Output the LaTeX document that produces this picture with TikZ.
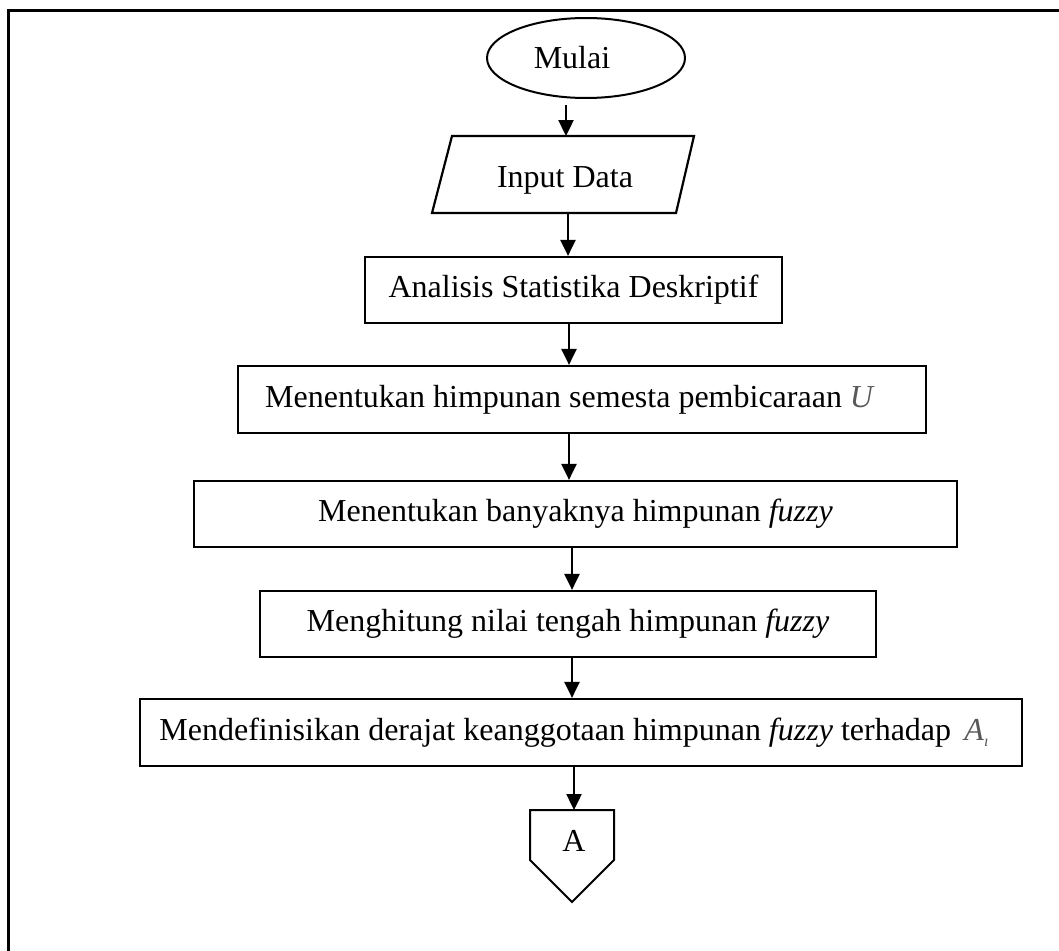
\documentclass[tikz,border=0pt]{standalone}
\usepackage{fontspec}
\setmainfont{Liberation Serif}
\usetikzlibrary{arrows.meta,shapes.geometric}
\begin{document}
\begin{tikzpicture}[x=1pt,y=-1pt,
  every node/.style={font=\fontsize{32}{38}\selectfont},
  box/.style={draw,line width=2.2pt,inner sep=0pt,text height=22pt,text depth=7pt},
  arr/.style={line width=2.4pt,-{Triangle[length=16pt,width=15pt]}},
  frame/.style={line width=3pt}]
\useasboundingbox (0,0) rectangle (1059,950);
% outer frame (cropped)
\draw[frame] (8,960) -- (8,11) -- (1070,11);
% start
\node[draw,ellipse,line width=2pt,minimum width=198pt,minimum height=80pt,inner sep=0pt] (start) at (586,58) {};
\node[anchor=base,inner sep=0pt] (startlbl) at (572,68) {Mulai};
% input
\draw[line width=2.2pt,line join=miter] (452,136) coordinate (pTL) -- (694,136) coordinate (pTR)
  -- (676,213) coordinate (pBR) -- (432,213) coordinate (pBL) -- cycle;
\node[anchor=base,inner sep=0pt] (inp) at (565,187) {Input Data};
\coordinate (inpT) at (566,136);
\coordinate (inpB) at (568,213);
% process boxes
\node[box,minimum width=417pt,minimum height=66pt] (r1) at (573.5,290) {Analisis Statistika Deskriptif};
\node[box,minimum width=688pt,minimum height=67pt] (r2) at (582,399.5) {Menentukan himpunan semesta pembicaraan \textcolor{black!65}{\textit{U}}\hspace*{24pt}};
\node[box,minimum width=763pt,minimum height=66pt] (r3) at (575.5,514) {Menentukan banyaknya himpunan \textit{fuzzy}};
\node[box,minimum width=616pt,minimum height=66pt] (r4) at (568,624) {Menghitung nilai tengah himpunan \textit{fuzzy}};
\node[box,minimum width=882pt,minimum height=67pt] (r5) at (581,732.5) {Mendefinisikan derajat keanggotaan himpunan \textit{fuzzy} terhadap \,\textcolor{black!65}{\textit{A}\raisebox{-6pt}{\fontsize{16}{18}\selectfont\textit{ı}}}\hspace*{14pt}};
% off-page connector
\draw[line width=2pt,line join=miter] (530,810) coordinate (oTL) -- (614,810) -- (614,860) -- (572,902) -- (530,860) -- cycle;
\node[anchor=base,inner sep=0pt] (off) at (574,851) {A};
\coordinate (offT) at (574,810);
% arrow x positions
\coordinate (x1) at (568,0);
\coordinate (x2) at (569,0);
\coordinate (x3) at (572,0);
\coordinate (x4) at (574,0);
\coordinate (s0) at (566,105);
% connectors
\draw[arr] (s0) -- (inpT);
\draw[arr] (inpB) -- (r1.north -| x1);
\draw[arr] (r1.south -| x2) -- (r2.north -| x2);
\draw[arr] (r2.south -| x2) -- (r3.north -| x2);
\draw[arr] (r3.south -| x3) -- (r4.north -| x3);
\draw[arr] (r4.south -| x3) -- (r5.north -| x3);
\draw[arr] (r5.south -| x4) -- (offT);
\end{tikzpicture}
\end{document}
